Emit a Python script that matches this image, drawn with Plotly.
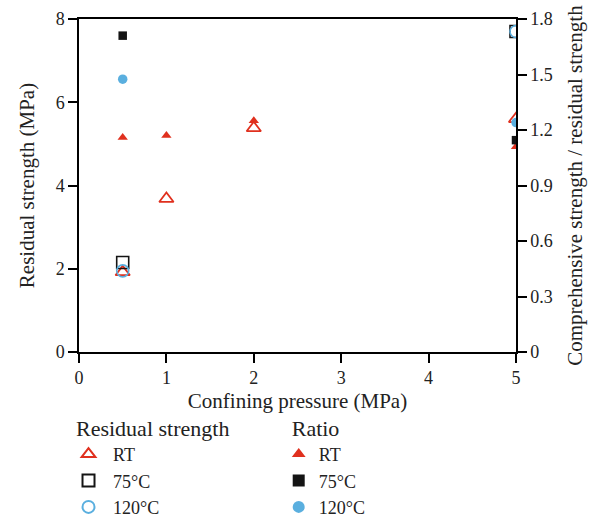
import plotly.graph_objects as go

# Confining pressure (MPa) for each test series
pressure_rt = [0.5, 1, 2, 5]
pressure_75 = [0.5, 5]
pressure_120 = [0.5, 5]

# Residual strength (MPa), left axis
residual_rt = [1.92, 3.68, 5.38, 5.6]
residual_75 = [2.15, 7.7]
residual_120 = [1.95, 7.7]

# Comprehensive strength / residual strength, right axis
ratio_rt = [1.16, 1.17, 1.25, 1.11]
ratio_75 = [1.71, 1.145]
ratio_120 = [1.475, 1.24]

x_ticks = [0, 1, 2, 3, 4, 5]
left_ticks = [0, 2, 4, 6, 8]
right_ticks = [0, 0.3, 0.6, 0.9, 1.2, 1.5, 1.8]
right_tick_text = ["0", "0.3", "0.6", "0.9", "1.2", "1.5", "1.8"]

RED = "#e0301e"
BLACK = "#141414"
BLUE = "#5aafdf"
FONT = "Liberation Serif"
NB = "\u00a0"

fig = go.Figure()

# Ratio series (filled markers, right axis)
fig.add_trace(go.Scatter(x=pressure_rt, y=ratio_rt, mode="markers", yaxis="y2",
                         name="RT", legend="legend2",
                         marker=dict(symbol="triangle-up", size=9, color=RED)))
fig.add_trace(go.Scatter(x=pressure_75, y=ratio_75, mode="markers", yaxis="y2",
                         name="75°C", legend="legend2",
                         marker=dict(symbol="square", size=8.5, color=BLACK)))
fig.add_trace(go.Scatter(x=pressure_120, y=ratio_120, mode="markers", yaxis="y2",
                         name="120°C", legend="legend2",
                         marker=dict(symbol="circle", size=9.5, color=BLUE)))

# Residual strength series (open markers, left axis)
fig.add_trace(go.Scatter(x=pressure_rt, y=residual_rt, mode="markers",
                         name=NB + "RT", legend="legend",
                         marker=dict(symbol="triangle-up-open", size=12.5, color=RED,
                                     line=dict(width=1.8))))
fig.add_trace(go.Scatter(x=pressure_75, y=residual_75, mode="markers",
                         name=NB + "75°C", legend="legend",
                         marker=dict(symbol="square-open", size=12, color=BLACK,
                                     line=dict(width=1.6))))
fig.add_trace(go.Scatter(x=pressure_120, y=residual_120, mode="markers",
                         name=NB + "120°C", legend="legend",
                         marker=dict(symbol="circle-open", size=12, color=BLUE,
                                     line=dict(width=1.6))))

axis_common = dict(showline=True, linecolor="black", linewidth=1.5,
                   ticks="outside", ticklen=9, tickwidth=2, tickcolor="black",
                   showgrid=False, zeroline=False,
                   tickfont=dict(family=FONT, size=18, color="#222"))

legend_common = dict(orientation="v", traceorder="normal",
                     font=dict(family=FONT, size=18, color="#222"),
                     bgcolor="rgba(0,0,0,0)", itemsizing="constant",
                     xanchor="left", yanchor="top", yref="paper", xref="paper",
                     tracegroupgap=0, itemwidth=30)

title_font = dict(family=FONT, size=21, color="#222")

fig.update_layout(
    width=597, height=521,
    margin=dict(l=79, r=81, t=19, b=169, autoexpand=False),
    paper_bgcolor="white", plot_bgcolor="white",
    showlegend=True,
    xaxis=dict(range=[0, 5], tickvals=x_ticks, mirror=True,
               title=dict(text="Confining pressure (MPa)", font=title_font, standoff=6),
               **axis_common),
    yaxis=dict(range=[0, 8], tickvals=left_ticks,
               title=dict(text="Residual strength (MPa)", font=title_font),
               **axis_common),
    yaxis2=dict(range=[0, 1.8], tickvals=right_ticks, ticktext=right_tick_text,
                overlaying="y", side="right",
                title=dict(text="Comprehensive strength / residual strength",
                           font=title_font),
                **axis_common),
    legend=dict(x=-0.024, y=-0.166,
                title=dict(text=NB + "Residual strength", side="top"),
                **legend_common),
    legend2=dict(x=0.457, y=-0.166,
                 title=dict(text=NB * 2 + "Ratio", side="top"),
                 **legend_common),
)

fig.write_html("out.html")
